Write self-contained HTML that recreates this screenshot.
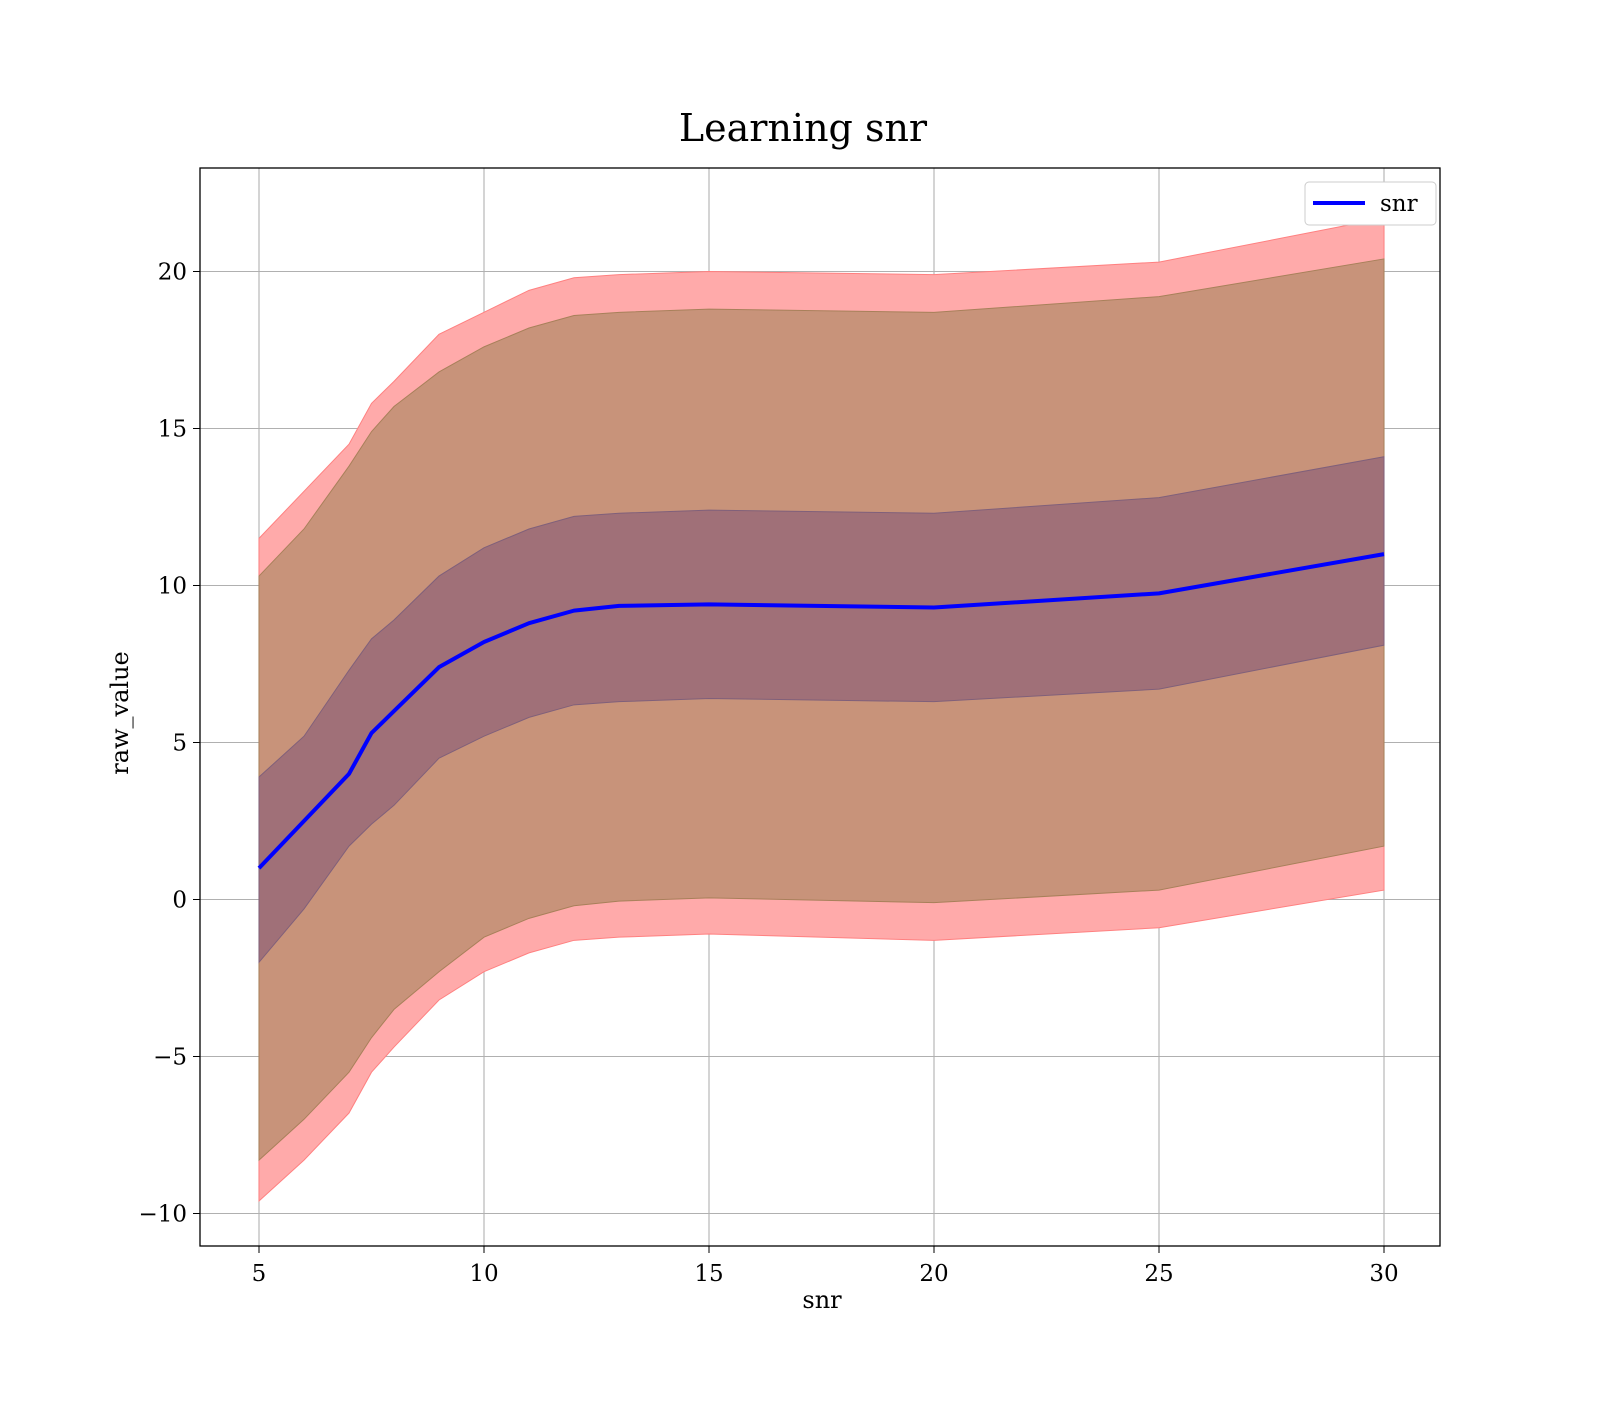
<!DOCTYPE html>
<html><head><meta charset="utf-8"><style>
body{margin:0;background:#fff}
svg text{font-family:"DejaVu Serif","Liberation Serif",serif;fill:#000}
</style></head><body>
<svg id="chart" width="1600" height="1400" viewBox="0 0 1600 1400" xmlns="http://www.w3.org/2000/svg">
<rect width="1600" height="1400" fill="#fff"/>
<text x="803" y="141" font-size="38" text-anchor="middle">Learning snr</text>
<g id="grid"></g><g id="bands"></g><g id="lines"></g>
<rect x="200" y="168" width="1240" height="1078" fill="none" stroke="#000" stroke-width="1.3"/>
<g id="ticks"></g>
<text x="822" y="1308" font-size="24" text-anchor="middle">snr</text>
<text transform="translate(128,713) rotate(-90)" font-size="24" text-anchor="middle">raw_value</text>
<g>
<rect x="1305" y="182" width="131" height="43" rx="4" fill="#fff" stroke="#ccc"/>
<line x1="1313" y1="203" x2="1365" y2="203" stroke="#0000ff" stroke-width="4"/>
<text x="1380" y="211" font-size="23">snr</text>
</g>
</svg>
<script>
const xs=[5,6,7,7.5,8,9,10,11,12,13,15,20,25,30];
const meanVals=[1.0,2.5,4.0,5.3,6.0,7.4,8.2,8.8,9.2,9.35,9.4,9.3,9.75,11.0];
const innerUpper=[3.9,5.2,7.3,8.3,8.9,10.3,11.2,11.8,12.2,12.3,12.4,12.3,12.8,14.1];
const innerLower=[-2.0,-0.3,1.7,2.4,3.0,4.5,5.2,5.8,6.2,6.3,6.4,6.3,6.7,8.1];
const midUpper=[10.3,11.8,13.8,14.9,15.7,16.8,17.6,18.2,18.6,18.7,18.8,18.7,19.2,20.4];
const midLower=[-8.3,-7.0,-5.5,-4.4,-3.5,-2.3,-1.2,-0.6,-0.2,-0.05,0.05,-0.1,0.3,1.7];
const outerUpper=[11.5,13.0,14.5,15.8,16.5,18.0,18.7,19.4,19.8,19.9,20.0,19.9,20.3,21.7];
const outerLower=[-9.6,-8.3,-6.8,-5.5,-4.7,-3.2,-2.3,-1.7,-1.3,-1.2,-1.1,-1.3,-0.9,0.3];
const xTicks=[5,10,15,20,25,30];
const yTicks=[-10,-5,0,5,10,15,20];
const X=v=>259+(v-5)*45, Y=v=>899.5-31.4*v;
const NS="http://www.w3.org/2000/svg";
function mk(t,a,p){const e=document.createElementNS(NS,t);for(const k in a)e.setAttribute(k,a[k]);p.appendChild(e);return e;}
const grid=document.getElementById('grid'),ticks=document.getElementById('ticks');
xTicks.forEach(t=>{const l=mk('line',{x1:X(t),x2:X(t),y1:168,y2:1246,stroke:'#b0b0b0','stroke-width':1.1},grid);


mk('line',{x1:X(t),x2:X(t),y1:1246,y2:1253,stroke:'#000'},ticks);
const tx=mk('text',{x:X(t),y:1281,'font-size':23,'text-anchor':'middle'},ticks);tx.textContent=t;

});
yTicks.forEach(t=>{const l=mk('line',{y1:Y(t),y2:Y(t),x1:200,x2:1440,stroke:'#b0b0b0','stroke-width':1.1},grid);


mk('line',{y1:Y(t),y2:Y(t),x1:193,x2:200,stroke:'#000'},ticks);
const tx=mk('text',{x:187,y:Y(t)+8,'font-size':23,'text-anchor':'end'},ticks);tx.textContent=(t<0?'\u2212'+(-t):t);

});
function band(up,lo,fill,stroke,name){let d='M'+xs.map((x,i)=>X(x)+','+Y(up[i])).join('L');
d+='L'+xs.map((x,i)=>X(x)+','+Y(lo[i])).reverse().join('L')+'Z';
const p=mk('path',{d:d,fill:fill,stroke:stroke,'stroke-width':1},document.getElementById('bands'));

}
band(outerUpper,outerLower,'#ffaaaa','#ff8080','outer-band');
band(midUpper,midLower,'#c8937a','#a8805a','middle-band');
band(innerUpper,innerLower,'#a07078','#80607a','inner-band');
const ln=mk('polyline',{points:xs.map((x,i)=>X(x)+','+Y(meanVals[i])).join(' '),fill:'none',stroke:'#0000ff','stroke-width':4,'stroke-linejoin':'round'},document.getElementById('lines'));


</script>
</body></html>
